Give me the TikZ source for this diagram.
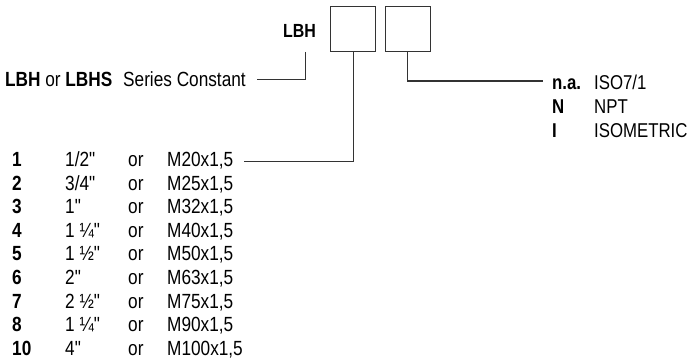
\documentclass[tikz,border=0pt]{standalone}
\usepackage{fontspec}
\setmainfont{Liberation Sans}[FakeStretch=0.84,Ligatures=TeXOff]
\begin{document}
\begin{tikzpicture}[x=1pt,y=-1pt,
  txt/.style={anchor=base west,inner sep=0pt,font=\fontsize{20.5}{22}\selectfont},
  btxt/.style={anchor=base west,inner sep=0pt,font=\fontsize{20.5}{22}\selectfont\bfseries},
  rtxt/.style={anchor=base west,inner sep=0pt,font=\fontsize{20}{22}\selectfont},
  rbtxt/.style={anchor=base west,inner sep=0pt,font=\fontsize{20}{22}\selectfont\bfseries},
  hdr/.style={anchor=base west,inner sep=0pt,font=\fontsize{20.5}{22}\selectfont},
  codebox/.style={draw=black!80,line width=1pt,minimum width=45pt,minimum height=45pt,inner sep=0pt},
  conn/.style={draw=black!80,line width=1pt}]
\useasboundingbox (0,0) rectangle (688,361);
% boxes
\node[codebox] (b1) at (353,29.5) {};
\node[codebox] (b2) at (407.5,29.5) {};
\node[anchor=base west,inner sep=0pt,font=\fontsize{19}{21}\selectfont\bfseries] (lbh) at (283,38) {LBH};
% series constant
\node[hdr] (ser1) at (5,87) {\textbf{LBH} or \textbf{LBHS}};
\node[hdr] (ser2) at (123,87) {Series Constant};
\coordinate (s0) at (305,52);
\coordinate (s1) at (257,80);
\draw[conn] (s0) |- (s1);
% thread type
\coordinate (t1) at (543,81);
\draw[conn] (b2.south) |- (t1);
\node[rbtxt] (k1) at (552,89) {n.a.};
\node[rtxt] (v1) at (594,89) {ISO7/1};
\node[rbtxt] (k2) at (552,113) {N};
\node[rtxt] (v2) at (594,113) {NPT};
\node[rbtxt] (k3) at (552,137) {I};
\node[rtxt] (v3) at (594,137) {ISOMETRIC};
% sizes
\foreach \n/\s/\m [count=\i from 0] in {1/{1\slash2"}/{M20x1,5}, 2/{3\slash4"}/{M25x1,5}, 3/{1"}/{M32x1,5}, 4/{1 ¼"}/{M40x1,5}, 5/{1 ½"}/{M50x1,5}, 6/{2"}/{M63x1,5}, 7/{2 ½"}/{M75x1,5}, 8/{1 ¼"}/{M90x1,5}, 10/{4"}/{M100x1,5}}{
  \pgfmathsetmacro{\yy}{166.5+23.6*\i}
  \node[btxt] (n\i) at (12,\yy) {\n};
  \node[txt] (z\i) at (65,\yy) {\s};
  \node[txt] (o\i) at (128,\yy) {or};
  \node[txt] (m\i) at (167,\yy) {\m};
}
\coordinate (r1) at (244,161);
\draw[conn] (b1.south) |- (r1);
\end{tikzpicture}
\end{document}
